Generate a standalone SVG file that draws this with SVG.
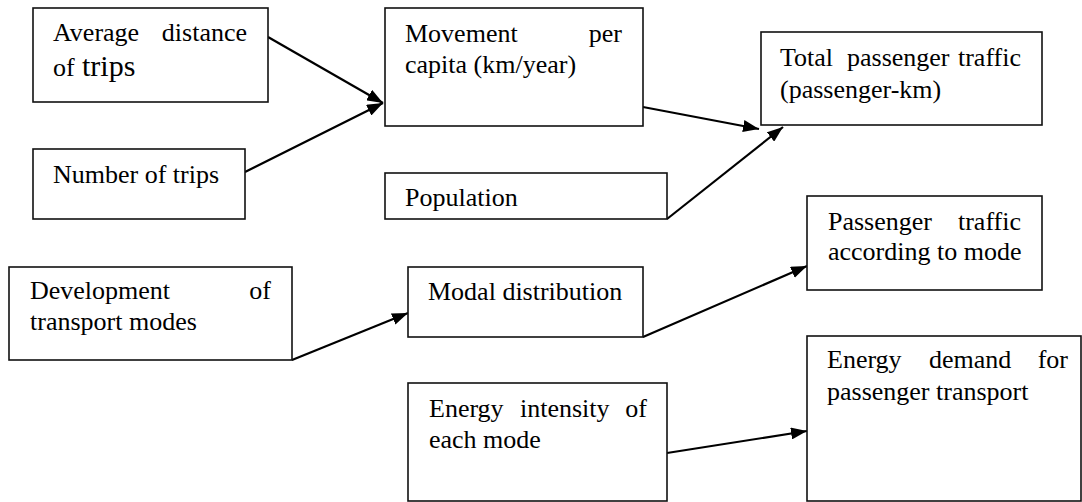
<svg xmlns="http://www.w3.org/2000/svg" width="1082" height="502" viewBox="0 0 1082 502">
<defs>
<marker id="ah" markerUnits="userSpaceOnUse" markerWidth="16" markerHeight="12" refX="16" refY="6" orient="auto">
<path d="M0,0 L16,6 L0,12 z" fill="#000"/>
</marker>
</defs>
<rect x="0" y="0" width="1082" height="502" fill="#fff"/>
<g id="connectors" fill="none" stroke="#000" stroke-width="2.2">
<line x1="268" y1="37" x2="383" y2="103" marker-end="url(#ah)"/>
<line x1="245" y1="172" x2="383" y2="103" marker-end="url(#ah)"/>
<line x1="643" y1="107" x2="759" y2="129" marker-end="url(#ah)"/>
<line x1="667" y1="219" x2="783" y2="127" marker-end="url(#ah)"/>
<line x1="292" y1="360" x2="408" y2="313" marker-end="url(#ah)"/>
<line x1="643" y1="337" x2="807" y2="266" marker-end="url(#ah)"/>
<line x1="667" y1="453" x2="807" y2="431" marker-end="url(#ah)"/>
</g>
<g id="avg-distance">
<rect x="33" y="8" width="235" height="94" fill="#fff" stroke="#111" stroke-width="1.6"/>
<text style="font-family:'Liberation Serif',serif;font-size:26px" x="53" y="41">Average</text>
<text style="font-family:'Liberation Serif',serif;font-size:26px" text-anchor="end" x="247" y="41">distance</text>
<text style="font-family:'Liberation Serif',serif;font-size:26px" x="53" y="76">of</text>
<text style="font-family:'Liberation Serif',serif;font-size:30px" x="82" y="76">trips</text>
</g>
<g id="num-trips">
<rect x="33" y="149" width="212" height="70" fill="#fff" stroke="#111" stroke-width="1.6"/>
<text style="font-family:'Liberation Serif',serif;font-size:26px" x="53" y="183">Number of trips</text>
</g>
<g id="movement">
<rect x="385" y="8" width="258" height="118" fill="#fff" stroke="#111" stroke-width="1.6"/>
<text style="font-family:'Liberation Serif',serif;font-size:26px" x="405" y="42">Movement</text>
<text style="font-family:'Liberation Serif',serif;font-size:26px" text-anchor="end" x="622" y="42">per</text>
<text style="font-family:'Liberation Serif',serif;font-size:26px" x="405" y="73">capita (km/year)</text>
</g>
<g id="population">
<rect x="385" y="173" width="282" height="46" fill="#fff" stroke="#111" stroke-width="1.6"/>
<text style="font-family:'Liberation Serif',serif;font-size:26px" x="405" y="206">Population</text>
</g>
<g id="total-traffic">
<rect x="761" y="32" width="281" height="93" fill="#fff" stroke="#111" stroke-width="1.6"/>
<text style="font-family:'Liberation Serif',serif;font-size:26px" x="780" y="66">Total</text>
<text style="font-family:'Liberation Serif',serif;font-size:26px" x="847" y="66">passenger</text>
<text style="font-family:'Liberation Serif',serif;font-size:26px" text-anchor="end" x="1021" y="66">traffic</text>
<text style="font-family:'Liberation Serif',serif;font-size:26px" x="780" y="98">(passenger-km)</text>
</g>
<g id="traffic-mode">
<rect x="807" y="196" width="235" height="94" fill="#fff" stroke="#111" stroke-width="1.6"/>
<text style="font-family:'Liberation Serif',serif;font-size:26px" x="828" y="230">Passenger</text>
<text style="font-family:'Liberation Serif',serif;font-size:26px" text-anchor="end" x="1021" y="230">traffic</text>
<text style="font-family:'Liberation Serif',serif;font-size:26px" x="828" y="260">according to mode</text>
</g>
<g id="development">
<rect x="9" y="267" width="283" height="93" fill="#fff" stroke="#111" stroke-width="1.6"/>
<text style="font-family:'Liberation Serif',serif;font-size:26px" x="30" y="299">Development</text>
<text style="font-family:'Liberation Serif',serif;font-size:26px" text-anchor="end" x="271" y="299">of</text>
<text style="font-family:'Liberation Serif',serif;font-size:26px" x="30" y="330">transport modes</text>
</g>
<g id="modal">
<rect x="408" y="267" width="235" height="70" fill="#fff" stroke="#111" stroke-width="1.6"/>
<text style="font-family:'Liberation Serif',serif;font-size:26px" x="428" y="300">Modal distribution</text>
</g>
<g id="energy-intensity">
<rect x="408" y="383" width="259" height="118" fill="#fff" stroke="#111" stroke-width="1.6"/>
<text style="font-family:'Liberation Serif',serif;font-size:26px" x="429" y="417">Energy</text>
<text style="font-family:'Liberation Serif',serif;font-size:26px" x="520" y="417">intensity</text>
<text style="font-family:'Liberation Serif',serif;font-size:26px" text-anchor="end" x="647" y="417">of</text>
<text style="font-family:'Liberation Serif',serif;font-size:26px" x="429" y="448">each mode</text>
</g>
<g id="energy-demand">
<rect x="807" y="336" width="274" height="165" fill="#fff" stroke="#111" stroke-width="1.6"/>
<text style="font-family:'Liberation Serif',serif;font-size:26px" x="827" y="368">Energy</text>
<text style="font-family:'Liberation Serif',serif;font-size:26px" x="929" y="368">demand</text>
<text style="font-family:'Liberation Serif',serif;font-size:26px" text-anchor="end" x="1068" y="368">for</text>
<text style="font-family:'Liberation Serif',serif;font-size:26px" x="827" y="400">passenger transport</text>
</g>
</svg>
